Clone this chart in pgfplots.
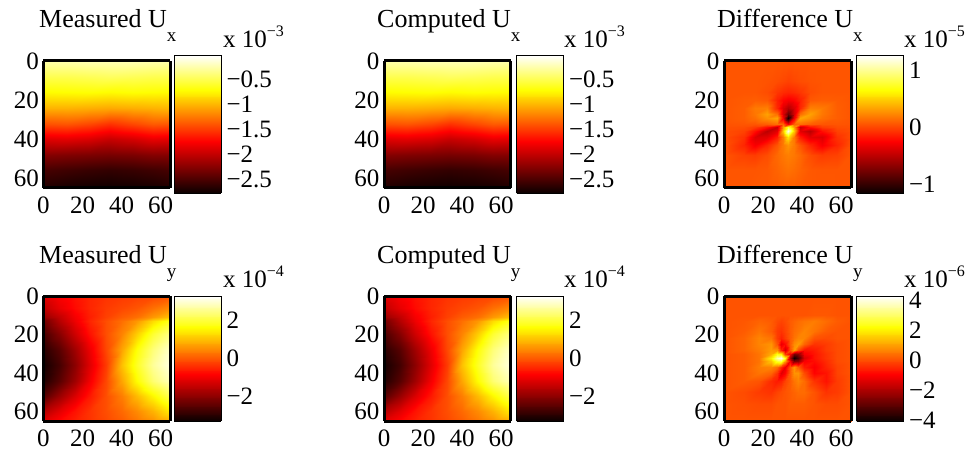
\documentclass[border=0pt]{standalone}
\usepackage{fontspec}
\setmainfont{Liberation Serif}
\usepackage{pgfplots}
\pgfplotsset{compat=1.18}

\pgfplotsset{
  colormap={mhot}{rgb255(0cm)=(8,0,0); rgb255(3cm)=(255,0,0); rgb255(6cm)=(255,255,0); rgb255(8cm)=(255,255,255)},
  panel/.style={
    colormap name=mhot, view={0}{90}, scale only axis, width=127pt, height=#1,
    xmin=0, xmax=65, ymin=0, ymax=65, y dir=reverse, axis on top,
    xtick={0,20,40,60}, ytick={0,20,40,60}, xticklabel pos=lower,
    major tick length=0pt, axis line style={line width=3pt},
    tick label style={font=\fontsize{25}{25}\selectfont},
    /pgf/number format/assume math mode=true,
    xticklabel style={yshift=-5pt}, yticklabel style={xshift=-1pt},
    colorbar sampled,
  },
  bar/.style={
    at={(parent axis.north east)}, anchor=north west, scale only axis,
    width=47pt, axis line style={line width=.9pt}, major tick length=0pt,
    tick label style={font=\fontsize{25}{25}\selectfont}, yticklabel style={xshift=2pt},
    samples=140,
  },
}

\newcommand{\surfux}{\addplot3[surf, shader=interp, mesh/cols=7] coordinates {
(0,0,-.25)(12,0,-.24)(24,0,-.22)(34,0,-.22)(46,0,-.22)(56,0,-.24)(65,0,-.25)
(0,8,-.50)(12,8,-.50)(24,8,-.48)(34,8,-.46)(46,8,-.48)(56,8,-.50)(65,8,-.50)
(0,16,-.72)(12,16,-.71)(24,16,-.70)(34,16,-.72)(46,16,-.70)(56,16,-.71)(65,16,-.72)
(0,24,-1.02)(12,24,-1.02)(24,24,-1.04)(34,24,-1.06)(46,24,-1.04)(56,24,-1.02)(65,24,-1.00)
(0,32,-1.42)(12,32,-1.40)(24,32,-1.46)(34,32,-1.55)(46,32,-1.46)(56,32,-1.38)(65,32,-1.40)
(0,40,-1.88)(12,40,-1.86)(24,40,-1.90)(34,40,-1.98)(46,40,-1.92)(56,40,-1.84)(65,40,-1.86)
(0,48,-2.26)(12,48,-2.28)(24,48,-2.30)(34,48,-2.32)(46,48,-2.30)(56,48,-2.26)(65,48,-2.26)
(0,56,-2.52)(12,56,-2.55)(24,56,-2.58)(34,56,-2.60)(46,56,-2.58)(56,56,-2.55)(65,56,-2.52)
(0,65,-2.68)(12,65,-2.72)(24,65,-2.74)(34,65,-2.75)(46,65,-2.74)(56,65,-2.72)(65,65,-2.68)
};}

\newcommand{\surfuy}{\addplot3[surf, shader=interp, mesh/cols=9] coordinates {
(0,0,-1.12)(8,0,-.86)(16,0,-.66)(24,0,-.46)(32,0,-.33)(40,0,-.26)(48,0,-.20)(56,0,-.13)(65,0,0)
(0,6,-1.45)(8,6,-1.06)(16,6,-.73)(24,6,-.46)(32,6,-.26)(40,6,-.13)(48,6,0)(56,6,.26)(65,6,.53)
(0,11,-1.85)(8,11,-1.45)(16,11,-.92)(24,11,-.53)(32,11,-.20)(40,11,.07)(48,11,.26)(56,11,.66)(65,11,1.06)
(0,13,-2.24)(8,13,-1.58)(16,13,-.99)(24,13,-.46)(32,13,-.07)(40,13,.26)(48,13,.66)(56,13,1.32)(65,13,1.85)
(0,20,-2.64)(8,20,-2.05)(16,20,-1.32)(24,20,-.66)(32,20,-.07)(40,20,.46)(48,20,1.19)(56,20,1.98)(65,20,2.51)
(0,28,-2.97)(8,28,-2.51)(16,28,-1.78)(24,28,-.99)(32,28,-.13)(40,28,.79)(48,28,1.72)(56,28,2.44)(65,28,2.97)
(0,36,-3.17)(8,36,-2.71)(16,36,-1.98)(24,36,-1.12)(32,36,-.26)(40,36,1.06)(48,36,1.91)(56,36,2.64)(65,36,3.10)
(0,44,-3.04)(8,44,-2.51)(16,44,-1.78)(24,44,-.92)(32,44,-.13)(40,44,.79)(48,44,1.65)(56,44,2.38)(65,44,2.84)
(0,52,-2.51)(8,52,-1.85)(16,52,-1.19)(24,52,-.59)(32,52,-.07)(40,52,.40)(48,52,.99)(56,52,1.58)(65,52,2.18)
(0,60,-1.58)(8,60,-1.12)(16,60,-.66)(24,60,-.33)(32,60,-.07)(40,60,.20)(48,60,.53)(56,60,.92)(65,60,1.45)
(0,65,-1.12)(8,65,-.79)(16,65,-.53)(24,65,-.33)(32,65,-.13)(40,65,.07)(48,65,.33)(56,65,.59)(65,65,.86)
};}

\newcommand{\titlenode}[4]{\node[anchor=base west, inner sep=0pt, font=\fontsize{26}{26}\selectfont] at (#1,#2) {#3\raisebox{-14pt}{\fontsize{19}{19}\selectfont #4}};}
\newcommand{\expnode}[3]{\node[anchor=base west, inner sep=0pt, font=\fontsize{25}{25}\selectfont] at (#1,#2) {x 10\raisebox{11pt}{\fontsize{16}{16}\selectfont #3}};}

\begin{document}
\begin{tikzpicture}[x=1pt,y=1pt]
\path[use as bounding box] (0,0) rectangle (969,461);

% top row
\begin{axis}[panel=127pt, at={(43.5pt,400pt)}, anchor=north west,
  point meta min=-2.78, point meta max=-0.02,
  colorbar style={bar, height=138pt, xshift=-5pt, yshift=6pt,
    ytick={-0.5,-1,-1.5,-2,-2.5}, yticklabels={−0.5,−1,−1.5,−2,−2.5}}]
\surfux
\end{axis}
\begin{axis}[panel=127pt, at={(384pt,400pt)}, anchor=north west,
  point meta min=-2.78, point meta max=-0.02,
  colorbar style={bar, height=138pt, xshift=-3pt, yshift=6pt,
    ytick={-0.5,-1,-1.5,-2,-2.5}, yticklabels={−0.5,−1,−1.5,−2,−2.5}}]
\surfux
\end{axis}
\begin{axis}[panel=127pt, at={(724pt,400pt)}, anchor=north west,
  point meta min=-1.16, point meta max=1.26,
  colorbar style={bar, height=138pt, xshift=-3pt, yshift=6pt,
    ytick={-1,0,1}, yticklabels={−1,0,1}}]
\addplot3[surf, shader=interp, mesh/cols=13] coordinates {
(0,0,.05)(10,0,.05)(16,0,.05)(22,0,.05)(27,0,.05)(30,0,.05)(33,0,.05)(36,0,.05)(39,0,.05)(44,0,.05)(50,0,.05)(58,0,.05)(65,0,.05)
(0,10,.05)(10,10,.05)(16,10,.05)(22,10,.04)(27,10,.02)(30,10,0)(33,10,-.02)(36,10,0)(39,10,.02)(44,10,.04)(50,10,.05)(58,10,.05)(65,10,.05)
(0,16,.05)(10,16,.05)(16,16,.05)(22,16,.02)(27,16,-.06)(30,16,-.10)(33,16,-.12)(36,16,-.10)(39,16,-.06)(44,16,.02)(50,16,.05)(58,16,.05)(65,16,.05)
(0,20,.05)(10,20,.07)(16,20,.08)(22,20,.06)(27,20,-.14)(30,20,-.24)(33,20,-.28)(36,20,-.24)(39,20,-.14)(44,20,.06)(50,20,.08)(58,20,.07)(65,20,.05)
(0,24,.05)(10,24,.08)(16,24,.18)(22,24,.20)(27,24,-.12)(30,24,-.38)(33,24,-.52)(36,24,-.38)(39,24,-.12)(44,24,.20)(50,24,.18)(58,24,.08)(65,24,.05)
(0,27,.05)(10,27,.08)(16,27,.17)(22,27,.32)(27,27,.14)(30,27,-.40)(33,27,-.80)(36,27,-.40)(39,27,.14)(44,27,.32)(50,27,.17)(58,27,.08)(65,27,.05)
(0,29,.05)(10,29,.08)(16,29,.14)(22,29,.26)(27,29,.34)(30,29,-.30)(33,29,-1.12)(36,29,-.30)(39,29,.34)(44,29,.26)(50,29,.14)(58,29,.08)(65,29,.05)
(0,32,.04)(10,32,.05)(16,32,.05)(22,32,.08)(27,32,.14)(30,32,.10)(33,32,-.30)(36,32,.10)(39,32,.14)(44,32,.08)(50,32,.05)(58,32,.05)(65,32,.04)
(0,34,.03)(10,34,.02)(16,34,-.04)(22,34,-.20)(27,34,-.45)(30,34,.30)(33,34,.80)(36,34,.30)(39,34,-.45)(44,34,-.20)(50,34,-.04)(58,34,.02)(65,34,.03)
(0,36,.02)(10,36,-.02)(16,36,-.20)(22,36,-.50)(27,36,-.35)(30,36,.45)(33,36,1.20)(36,36,.45)(39,36,-.35)(44,36,-.50)(50,36,-.20)(58,36,-.02)(65,36,.02)
(0,39,.02)(10,39,-.08)(16,39,-.38)(22,39,-.35)(27,39,-.15)(30,39,.18)(33,39,.55)(36,39,.18)(39,39,-.15)(44,39,-.35)(50,39,-.38)(58,39,-.08)(65,39,.02)
(0,43,.04)(10,43,-.12)(16,43,-.28)(22,43,-.12)(27,43,.05)(30,43,.18)(33,43,.28)(36,43,.18)(39,43,.05)(44,43,-.12)(50,43,-.28)(58,43,-.12)(65,43,.04)
(0,48,.05)(10,48,-.02)(16,48,-.04)(22,48,.02)(27,48,.12)(30,48,.17)(33,48,.20)(36,48,.17)(39,48,.12)(44,48,.02)(50,48,-.04)(58,48,-.02)(65,48,.05)
(0,56,.05)(10,56,.05)(16,56,.05)(22,56,.06)(27,56,.10)(30,56,.13)(33,56,.15)(36,56,.13)(39,56,.10)(44,56,.06)(50,56,.05)(58,56,.05)(65,56,.05)
(0,65,.05)(10,65,.05)(16,65,.06)(22,65,.06)(27,65,.07)(30,65,.08)(33,65,.08)(36,65,.08)(39,65,.07)(44,65,.06)(50,65,.06)(58,65,.05)(65,65,.05)
};
\end{axis}

% bottom row
\begin{axis}[panel=125pt, at={(43.5pt,165pt)}, anchor=north west,
  point meta min=-3.3, point meta max=3.3,
  colorbar style={bar, height=125pt, xshift=-5pt,
    ytick={-2,0,2}, yticklabels={−2,0,2}}]
\surfuy
\end{axis}
\begin{axis}[panel=125pt, at={(384pt,165pt)}, anchor=north west,
  point meta min=-3.3, point meta max=3.3,
  colorbar style={bar, height=125pt, xshift=-3pt,
    ytick={-2,0,2}, yticklabels={−2,0,2}}]
\surfuy
\end{axis}
\begin{axis}[panel=125pt, at={(724pt,165pt)}, anchor=north west,
  point meta min=-4.05, point meta max=4.3,
  colorbar style={bar, height=125pt, xshift=-3pt,
    ytick={-4,-2,0,2,4}, yticklabels={−4,−2,0,2,4}}]
\addplot3[surf, shader=interp, mesh/cols=15] coordinates {
(0,0,.1)(10,0,.1)(18,0,.1)(24,0,.1)(27,0,.1)(29,0,.1)(31,0,.1)(34,0,.1)(36,0,.1)(38,0,.1)(41,0,.1)(46,0,.1)(52,0,.1)(58,0,.1)(65,0,.1)
(0,10,.1)(10,10,.1)(18,10,.1)(24,10,.1)(27,10,.1)(29,10,.1)(31,10,.1)(34,10,.1)(36,10,.1)(38,10,.1)(41,10,.1)(46,10,.15)(52,10,.15)(58,10,.1)(65,10,.1)
(0,13,.1)(10,13,.15)(18,13,.3)(24,13,.2)(27,13,0)(29,13,-.1)(31,13,0)(34,13,.2)(36,13,.3)(38,13,.4)(41,13,.5)(46,13,.6)(52,13,.4)(58,13,.2)(65,13,.1)
(0,18,.1)(10,18,.2)(18,18,.5)(24,18,.2)(27,18,-.2)(29,18,-.3)(31,18,-.1)(34,18,.2)(36,18,.4)(38,18,.5)(41,18,.7)(46,18,.5)(52,18,.2)(58,18,.1)(65,18,.1)
(0,22,.1)(10,22,.3)(18,22,.7)(24,22,.5)(27,22,-.2)(29,22,-.5)(31,22,-.2)(34,22,.2)(36,22,.5)(38,22,.7)(41,22,.7)(46,22,.1)(52,22,0)(58,22,.1)(65,22,.1)
(0,25,.1)(10,25,.3)(18,25,.7)(24,25,.9)(27,25,.1)(29,25,-1.2)(31,25,-.8)(34,25,.2)(36,25,.8)(38,25,1.0)(41,25,.3)(46,25,-.3)(52,25,-.2)(58,25,0)(65,25,.1)
(0,28,.1)(10,28,.3)(18,28,.6)(24,28,1.0)(27,28,.9)(29,28,-.5)(31,28,-1.5)(34,28,.1)(36,28,1.0)(38,28,0)(41,28,-.7)(46,28,-.6)(52,28,-.2)(58,28,0)(65,28,.1)
(0,30,.1)(10,30,.2)(18,30,.5)(24,30,1.2)(27,30,2.4)(29,30,2.2)(31,30,-.2)(34,30,-1.0)(36,30,-2.6)(38,30,-2.4)(41,30,-1.0)(46,30,-.7)(52,30,-.3)(58,30,0)(65,30,.1)
(0,32,.1)(10,32,.2)(18,32,.5)(24,32,2.0)(27,32,3.6)(29,32,4.2)(31,32,2.4)(34,32,-2.0)(36,32,-4.0)(38,32,-3.2)(41,32,-1.4)(46,32,-.7)(52,32,-.3)(58,32,0)(65,32,.1)
(0,34,.1)(10,34,.2)(18,34,.5)(24,34,1.5)(27,34,2.6)(29,34,2.8)(31,34,1.0)(34,34,-1.0)(36,34,-2.6)(38,34,-2.4)(41,34,-1.0)(46,34,-.8)(52,34,-.4)(58,34,0)(65,34,.1)
(0,37,.1)(10,37,.2)(18,37,.6)(24,37,.7)(27,37,.4)(29,37,-.4)(31,37,-1.2)(34,37,.1)(36,37,.9)(38,37,.2)(41,37,-.6)(46,37,-1.0)(52,37,-.5)(58,37,-.1)(65,37,.1)
(0,40,.1)(10,40,.2)(18,40,.5)(24,40,.3)(27,40,-.3)(29,40,-1.3)(31,40,-.9)(34,40,.2)(36,40,.9)(38,40,.9)(41,40,0)(46,40,-.9)(52,40,-.7)(58,40,-.1)(65,40,.1)
(0,44,.1)(10,44,.2)(18,44,.1)(24,44,-.4)(27,44,-.6)(29,44,-.5)(31,44,-.1)(34,44,.2)(36,44,.5)(38,44,.7)(41,44,.4)(46,44,-.3)(52,44,-.7)(58,44,-.2)(65,44,.1)
(0,50,.1)(10,50,0)(18,50,-.2)(24,50,-.3)(27,50,-.1)(29,50,0)(31,50,.1)(34,50,.2)(36,50,.3)(38,50,.4)(41,50,.4)(46,50,.1)(52,50,-.3)(58,50,-.2)(65,50,.1)
(0,56,.1)(10,56,.05)(18,56,0)(24,56,0)(27,56,.1)(29,56,.1)(31,56,.1)(34,56,.2)(36,56,.2)(38,56,.2)(41,56,.2)(46,56,.1)(52,56,0)(58,56,0)(65,56,.1)
(0,65,.1)(10,65,.1)(18,65,.1)(24,65,.1)(27,65,.1)(29,65,.1)(31,65,.1)(34,65,.1)(36,65,.1)(38,65,.1)(41,65,.1)(46,65,.1)(52,65,.1)(58,65,.1)(65,65,.1)
};
\end{axis}

\titlenode{39}{433}{Measured U}{x}
\titlenode{377}{433}{Computed U}{x}
\titlenode{717}{433}{Difference U}{x}
\titlenode{39}{197}{Measured U}{y}
\titlenode{377}{197}{Computed U}{y}
\titlenode{717}{197}{Difference U}{y}
\expnode{223}{413}{−3}
\expnode{564}{413}{−3}
\expnode{904}{413}{−5}
\expnode{223}{173}{−4}
\expnode{564}{173}{−4}
\expnode{904}{173}{−6}
\end{tikzpicture}
\end{document}
